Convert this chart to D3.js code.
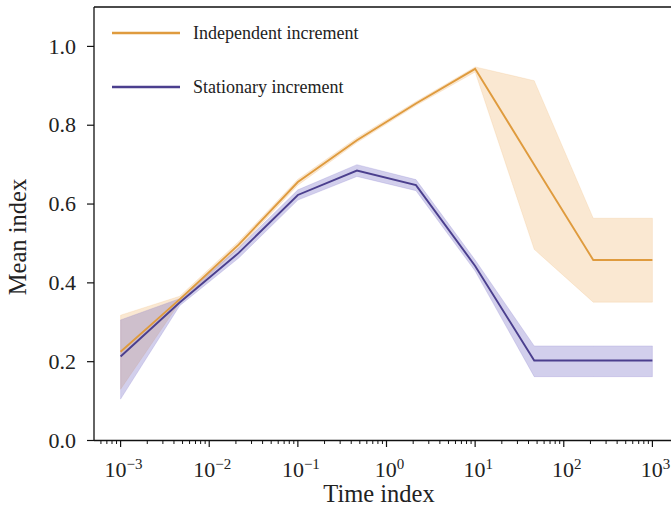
<!DOCTYPE html>
<html>
<head>
<meta charset="utf-8">
<script src="https://cdn.jsdelivr.net/npm/d3@7"></script>
<style>
  body { margin: 0; background: #fff; }
  svg { display: block; }
  text { font-family: "Liberation Serif", "Times New Roman", serif; fill: #222; }
</style>
</head>
<body>
<div id="chart"></div>
<script>
// Time index values (log spaced)
const timeIndex = [0.001, 0.00464, 0.0215, 0.1, 0.464, 2.15, 10, 46.4, 215, 1000];

// Independent increment
const indepMean = [0.225, 0.358, 0.497, 0.656, 0.762, 0.855, 0.943, 0.700, 0.458, 0.458];
const indepLow  = [0.130, 0.350, 0.488, 0.648, 0.756, 0.850, 0.935, 0.485, 0.351, 0.351];
const indepHigh = [0.318, 0.366, 0.505, 0.663, 0.768, 0.860, 0.948, 0.913, 0.564, 0.564];

// Stationary increment
const statMean = [0.213, 0.350, 0.476, 0.623, 0.685, 0.648, 0.443, 0.203, 0.203, 0.203];
const statLow  = [0.105, 0.342, 0.463, 0.610, 0.670, 0.634, 0.430, 0.162, 0.162, 0.162];
const statHigh = [0.306, 0.360, 0.489, 0.636, 0.700, 0.662, 0.458, 0.240, 0.240, 0.240];

const yTicks = [0.0, 0.2, 0.4, 0.6, 0.8, 1.0];
const xTicks = [1e-3, 1e-2, 1e-1, 1e0, 1e1, 1e2, 1e3];

const width = 671, height = 508;
const margin = { top: 7, right: -8, bottom: 67.5, left: 94 };

const svg = d3.select('#chart')
  .append('svg')
    .attr('width', width)
    .attr('height', height);

const x = d3.scaleLog()
  .domain([Math.pow(10, -3.3), Math.pow(10, 3.3)])
  .range([margin.left, width - margin.right]);

const y = d3.scaleLinear()
  .domain([0, 1.1])
  .range([height - margin.bottom, margin.top]);

const series = [
  { name: 'Independent increment', mean: indepMean, low: indepLow, high: indepHigh,
    line: '#df9b3e', fill: '#eda24a', opacity: 0.25 },
  { name: 'Stationary increment', mean: statMean, low: statLow, high: statHigh,
    line: '#4b3f8e', fill: '#6a5fc0', opacity: 0.3 }
];

const plot = svg.append('g');

// Bands
const area = d3.area()
  .x(d => x(d.t))
  .y0(d => y(d.lo))
  .y1(d => y(d.hi));

series.forEach(s => {
  const pts = timeIndex.map((t, i) => ({ t: t, lo: s.low[i], hi: s.high[i] }));
  plot.append('path')
    .attr('d', area(pts))
    .attr('fill', s.fill)
    .attr('fill-opacity', s.opacity)
    .attr('stroke', s.fill)
    .attr('stroke-opacity', s.opacity * 0.6)
    .attr('stroke-width', 1);
});

// Mean lines
const line = d3.line()
  .x(d => x(d.t))
  .y(d => y(d.v));

series.forEach(s => {
  const pts = timeIndex.map((t, i) => ({ t: t, v: s.mean[i] }));
  plot.append('path')
    .attr('d', line(pts))
    .attr('fill', 'none')
    .attr('stroke', s.line)
    .attr('stroke-width', 1.9)
    .attr('stroke-linejoin', 'miter');
});

// Spines
const x0 = margin.left, x1 = width - margin.right;
const yb = height - margin.bottom, yt = margin.top;
svg.append('path')
  .attr('d', `M${x0},${yb}H${x1}M${x0},${yb}V${yt}M${x0},${yt}H${x1}`)
  .attr('stroke', '#111')
  .attr('stroke-width', 1.3)
  .attr('fill', 'none');

// Y axis ticks
const yAxis = svg.append('g');
yAxis.selectAll('line')
  .data(yTicks)
  .join('line')
    .attr('x1', x0 - 7).attr('x2', x0)
    .attr('y1', d => y(d)).attr('y2', d => y(d))
    .attr('stroke', '#111').attr('stroke-width', 1.2);
yAxis.selectAll('text')
  .data(yTicks)
  .join('text')
    .attr('x', x0 - 18)
    .attr('y', d => y(d))
    .attr('dy', '0.33em')
    .attr('text-anchor', 'end')
    .style('font-size', '22px')
    .text(d => d.toFixed(1));

// X axis ticks (major + minor)
const minorTicks = [];
for (let e = -4; e <= 3; e++) {
  for (let m = 2; m <= 9; m++) {
    const v = m * Math.pow(10, e);
    if (v > x.domain()[0] && v < x.domain()[1]) minorTicks.push(v);
  }
}
const xAxis = svg.append('g');
xAxis.selectAll('line.minor')
  .data(minorTicks)
  .join('line')
    .attr('class', 'minor')
    .attr('x1', d => x(d)).attr('x2', d => x(d))
    .attr('y1', yb).attr('y2', yb + 3.5)
    .attr('stroke', '#111').attr('stroke-width', 1);
xAxis.selectAll('line.major')
  .data(xTicks)
  .join('line')
    .attr('class', 'major')
    .attr('x1', d => x(d)).attr('x2', d => x(d))
    .attr('y1', yb).attr('y2', yb + 6.5)
    .attr('stroke', '#111').attr('stroke-width', 1.2);

const xLabels = xAxis.selectAll('text')
  .data(xTicks)
  .join('text')
    .attr('x', d => x(d) + 3)
    .attr('y', yb + 36)
    .attr('text-anchor', 'middle')
    .style('font-size', '22px');
xLabels.append('tspan').text('10');
xLabels.append('tspan')
  .attr('dy', '-0.5em')
  .style('font-size', '15px')
  .text(d => Math.round(Math.log10(d)).toString().replace('-', '\u2212'));

// Axis titles
svg.append('text')
  .attr('x', 379)
  .attr('y', yb + 61)
  .attr('text-anchor', 'middle')
  .style('font-size', '24.5px')
  .text('Time index');

svg.append('text')
  .attr('transform', `translate(26,237) rotate(-90)`)
  .attr('text-anchor', 'middle')
  .style('font-size', '24.5px')
  .text('Mean index');

// Legend
const legend = svg.append('g')
  .selectAll('g')
  .data(series)
  .join('g')
    .attr('transform', (d, i) => `translate(112,${33 + i * 54})`);
legend.append('line')
  .attr('x1', 0).attr('x2', 68)
  .attr('stroke', d => d.line)
  .attr('stroke-width', 2.5);
legend.append('text')
  .attr('x', 81)
  .attr('dy', '0.33em')
  .style('font-size', '18px')
  .text(d => d.name);
</script>
</body>
</html>
